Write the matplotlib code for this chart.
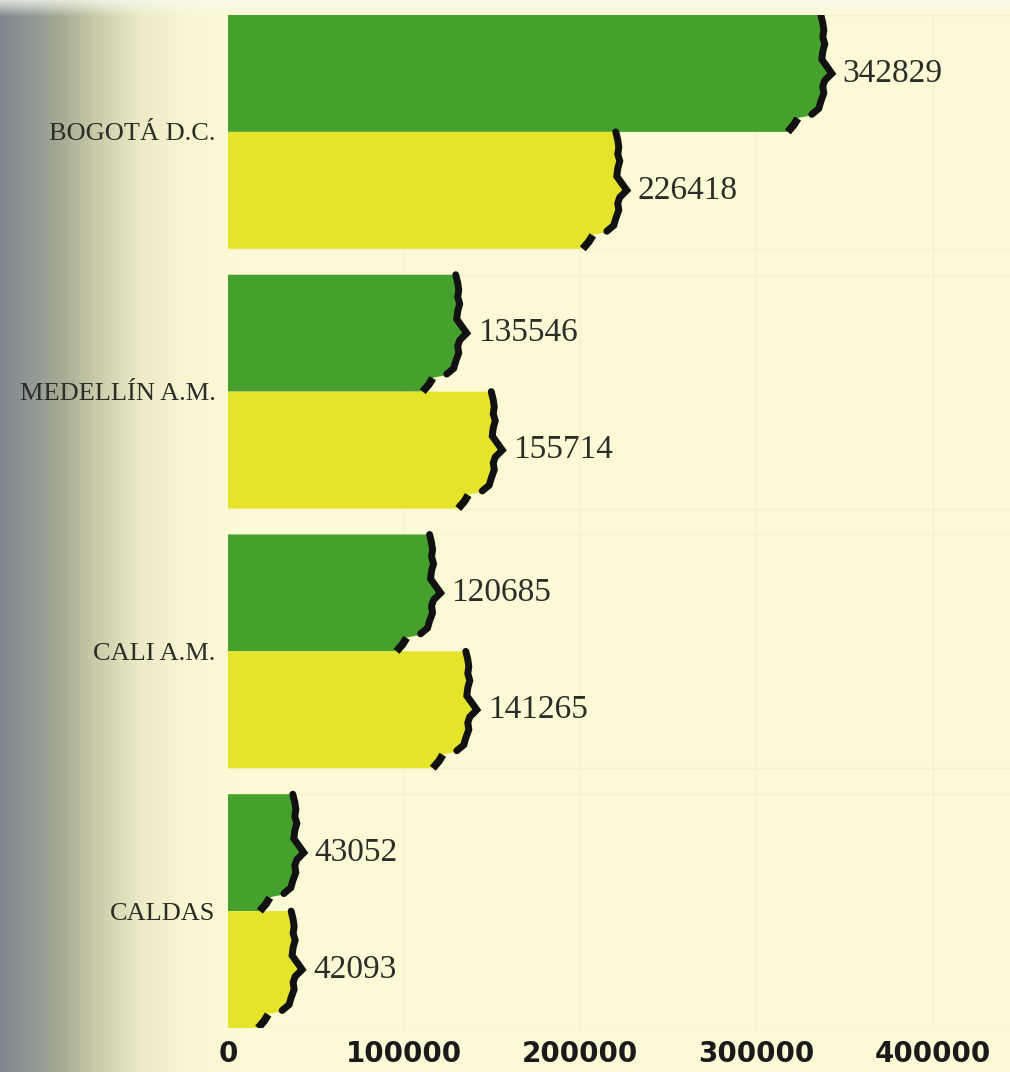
import numpy as np
import matplotlib.pyplot as plt

# Poblacion por zona (dos series por zona)
zonas = ["BOGOTÁ D.C.", "MEDELLÍN A.M.", "CALI A.M.", "CALDAS"]
serie_verde = [342829, 135546, 120685, 43052]
serie_amarilla = [226418, 155714, 141265, 42093]
ticks_x = [0, 100000, 200000, 300000, 400000]

VERDE = "#46a02e"
AMARILLO = "#e4e52b"
TEXTO = "#2c2c28"

W, H = 1010, 1072
fig = plt.figure(figsize=(W / 100, H / 100), dpi=100)

# Fondo: papel crema con sombra gris en el borde izquierdo
bg = fig.add_axes([0, 0, 1, 1], zorder=0)
cols = np.arange(W)
stops_x = [0, 25, 60, 100, 140, 190, 240]
stops_c = np.array([
    [126, 136, 140],
    [140, 150, 150],
    [165, 170, 145],
    [205, 207, 172],
    [236, 235, 198],
    [249, 247, 211],
    [252, 250, 214],
]) / 255.0
grad = np.stack([np.interp(cols, stops_x, stops_c[:, k]) for k in range(3)], axis=-1)
img = np.repeat(grad[None, :, :], H, axis=0)
# franja superior mas clara
fade = np.interp(np.arange(H), [0, 6, 16], [0.75, 0.5, 0.0])[:, None, None]
img = img * (1 - fade) + np.array([0.97, 0.98, 0.94]) * fade
bg.imshow(img, aspect="auto", extent=[0, W, H, 0])
bg.set_xlim(0, W)
bg.set_ylim(H, 0)
bg.axis("off")

# Ejes principales
x0_px, top_px, bot_px = 228, 15, 1028
xmax = 444000
ax = fig.add_axes([x0_px / W, (H - bot_px) / H, (W - x0_px) / W, (bot_px - top_px) / H], zorder=1)
ax.patch.set_alpha(0)

paso = 260 / 117  # separacion entre grupos en alturas de barra
n = len(zonas)
ax.set_xlim(0, xmax)
ax.set_ylim(paso * (n - 1) + 2, 0)

px = xmax / (W - x0_px)  # unidades de datos por pixel

# cuadricula tenue del papel
for t in ticks_x[1:]:
    ax.axvline(t, color="#f4f2cc", lw=1.0, zorder=0)
for i in range(n):
    for yy in (paso * i, paso * i + 2):
        ax.axhline(yy, color="#f5f3cd", lw=1.0, zorder=0)

# borde rasgado de cada barra (dx en pixeles desde la punta, fy fraccion de altura)
borde = [(-11, 0.0), (-9, 0.07), (-8, 0.13), (-9, 0.19), (-7, 0.25), (-9, 0.31),
         (-10, 0.38), (-5, 0.44), (0, 0.50), (-7, 0.56), (-9, 0.61), (-8, 0.67),
         (-11, 0.74), (-13, 0.80), (-20, 0.85)]
muesca = [(-24, 0.865), (-33, 0.88)]
pie = [(-34, 0.885), (-38, 0.94), (-44, 1.0)]


def barra(valor, y0, color):
    edge = [(valor + dx * px, y0 + fy) for dx, fy in borde]
    notch = [(valor + dx * px, y0 + fy) for dx, fy in muesca]
    foot = [(valor + dx * px, y0 + fy) for dx, fy in pie]
    poly = [(0, y0)] + edge + notch + foot + [(0, y0 + 1)]
    xs, ys = zip(*poly)
    ax.fill(xs, ys, color=color, lw=0, zorder=2)
    ex, ey = zip(*edge)
    ax.plot(ex, ey, color="#111111", lw=5, solid_capstyle="round",
            solid_joinstyle="miter", zorder=3)
    fx, fy_ = zip(*foot)
    ax.plot(fx, fy_, color="#111111", lw=5.5, solid_capstyle="butt", zorder=3)
    ax.text(valor + 11 * px, y0 + 0.5, str(valor), ha="left", va="center",
            fontsize=24, family="Liberation Serif", color=TEXTO, zorder=4)


for i in range(n):
    t = paso * i
    barra(serie_verde[i], t, VERDE)
    barra(serie_amarilla[i], t + 1, AMARILLO)

ax.set_yticks([paso * i + 1 for i in range(n)])
ax.set_yticklabels(zonas, family="Liberation Serif", fontsize=19, color=TEXTO)
ax.set_xticks(ticks_x)
ax.set_xticklabels([str(t) for t in ticks_x], family="DejaVu Sans",
                   fontweight="bold", fontsize=20, color="#1a1a1a")
ax.tick_params(axis="x", length=0, pad=9)
ax.tick_params(axis="y", length=0, pad=9)
for s in ax.spines.values():
    s.set_visible(False)

fig.savefig("out.png", dpi=100)
